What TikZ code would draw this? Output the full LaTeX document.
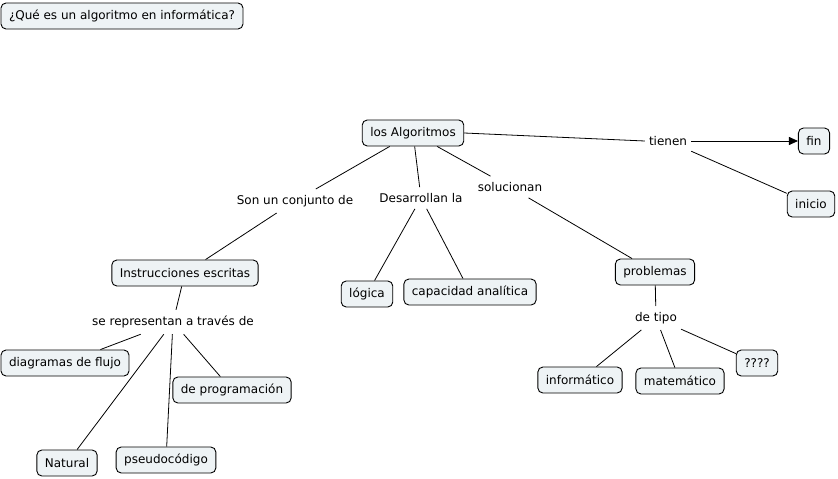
\documentclass[tikz,border=0pt]{standalone}
\usepackage{fontspec}
\setmainfont{DejaVu Sans}
\usetikzlibrary{arrows.meta}
\definecolor{boxfill}{HTML}{EEF3F5}
\begin{document}
\begin{tikzpicture}[x=1pt,y=-1pt,
  every node/.style={font=\fontsize{12}{14}\selectfont},
  concept/.style={draw=black,line width=0.9pt,rounded corners=5pt,fill=boxfill,
    inner xsep=8pt,inner ysep=0pt,minimum height=26pt},
  linkl/.style={inner xsep=4pt,inner ysep=6pt},
  conn/.style={draw=black,line width=0.8pt},
  arr/.style={conn,-{Triangle[length=9pt,width=8pt]}}]
\useasboundingbox (0,0) rectangle (838,479);
% concepts
\node[concept] (q) at (122,16) {¿Qué es un algoritmo en informática?};
\node[concept] (alg) at (413,133) {los Algoritmos};
\node[concept] (fin) at (814,141) {fin};
\node[concept] (ini) at (811,204) {inicio};
\node[concept] (ins) at (185,273) {Instrucciones escritas};
\node[concept] (log) at (367,294) {lógica};
\node[concept] (cap) at (470,292) {capacidad analítica};
\node[concept] (pro) at (655,272) {problemas};
\node[concept] (dia) at (65,363) {diagramas de flujo};
\node[concept] (dep) at (232,390) {de programación};
\node[concept] (nat) at (67,463) {Natural};
\node[concept] (pse) at (166,460) {pseudocódigo};
\node[concept] (inf) at (580,380) {informático};
\node[concept] (mat) at (680,381) {matemático};
\node[concept] (qqq) at (757,363) {????};
% linking phrases
\node[linkl] (tie) at (668,141) {tienen};
\node[linkl] (son) at (295,201) {Son un conjunto de};
\node[linkl] (des) at (421,198) {Desarrollan la};
\node[linkl] (sol) at (510,187) {solucionan};
\node[linkl] (rep) at (173,322) {se representan a través de};
\node[linkl] (tip) at (656,318) {de tipo};
% connectors
\draw[conn] (alg.east) -- (tie.west);
\draw[arr] (tie.east) -- (fin.west);
\draw[conn] (tie) -- (ini);
\draw[conn] (alg) -- (son);
\draw[conn] (son) -- (ins);
\draw[conn] (alg) -- (des);
\draw[conn] (des) -- (log);
\draw[conn] (des) -- (cap);
\draw[conn] (alg) -- (sol);
\draw[conn] (sol) -- (pro);
\draw[conn] (ins) -- (rep);
\draw[conn] (rep) -- (dia);
\draw[conn] (rep) -- (dep);
\draw[conn] (rep) -- (nat);
\draw[conn] (rep) -- (pse);
\draw[conn] (pro) -- (tip);
\draw[conn] (tip) -- (inf);
\draw[conn] (tip) -- (mat);
\draw[conn] (tip) -- (qqq);
\end{tikzpicture}
\end{document}
